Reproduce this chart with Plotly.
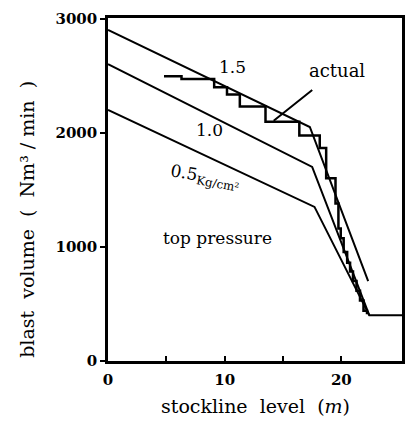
import plotly.graph_objects as go

# theoretical lines for each top pressure (Kg/cm2)
p15_x = [0, 17.3, 22.3]
p15_y = [2900, 2050, 700]
p10_x = [0, 17.5, 22.4, 25.2]
p10_y = [2600, 1700, 400, 400]
p05_x = [0, 17.7, 22.4]
p05_y = [2200, 1350, 400]

# actual blast volume (step line, horizontal then vertical)
actual_x = [4.8, 6.3, 9.1, 10.2, 11.3, 13.5, 16.4, 18.15, 18.7, 19.5, 19.75, 19.95,
            20.2, 20.5, 20.75, 21.0, 21.3, 21.6, 21.9, 22.2, 22.35]
actual_y = [2495, 2470, 2398, 2335, 2230, 2095, 1975, 1866, 1600, 1380, 1160, 1075,
            955, 860, 785, 700, 615, 530, 440, 420, 420]

x_tickvals = [0, 5, 10, 15, 20]
x_ticktext = ["0", "", "10", "", "20"]
y_tickvals = [0, 1000, 2000, 3000]
y_ticktext = ["0", "1000", "2000", "3000"]

SERIF = "DejaVu Serif"
line_style = dict(color="black", width=2)

fig = go.Figure()
fig.add_trace(go.Scatter(x=p15_x, y=p15_y, mode="lines", line=line_style, name="1.5"))
fig.add_trace(go.Scatter(x=p10_x, y=p10_y, mode="lines", line=line_style, name="1.0"))
fig.add_trace(go.Scatter(x=p05_x, y=p05_y, mode="lines", line=line_style, name="0.5"))
fig.add_trace(go.Scatter(x=actual_x, y=actual_y, mode="lines",
                         line=dict(color="black", width=2.5, shape="hv"), name="actual"))

txt = dict(family=SERIF, size=17, color="black")
fig.add_annotation(x=10.7, y=2575, text="1.5", showarrow=False, font=txt)
fig.add_annotation(x=8.7, y=2025, text="1.0", showarrow=False, font=txt)
fig.add_annotation(x=8.3, y=1610, text="0.5<sub>Kg/cm²</sub>", showarrow=False,
                   font=txt, textangle=10)
fig.add_annotation(x=9.4, y=1080, text="top pressure", showarrow=False, font=txt)
fig.add_annotation(x=14.2, y=2105, ax=19.6, ay=2545, xref="x", yref="y",
                   axref="x", ayref="y", text="actual", showarrow=True,
                   arrowhead=0, arrowwidth=2, arrowcolor="black",
                   font=dict(family=SERIF, size=18, color="black"),
                   xanchor="center", yanchor="middle", standoff=0,
                   startstandoff=12)

fig.add_annotation(x=-0.276, y=0.414, xref="paper", yref="paper",
                   xanchor="center", yanchor="middle",
                   text="blast  volume  (  Nm³ / min  )", textangle=-90,
                   showarrow=False, font=dict(family=SERIF, size=19, color="black"))
fig.add_annotation(x=0.5, y=-0.13, xref="paper", yref="paper",
                   xanchor="center", yanchor="middle",
                   text="stockline  level  (<i>m</i>)",
                   showarrow=False, font=dict(family=SERIF, size=19, color="black"))

fig.update_xaxes(range=[0, 25.2], tickvals=x_tickvals, ticktext=x_ticktext,
                 ticks="inside", ticklen=5, tickwidth=2, tickcolor="black",
                 showline=True, linecolor="black", linewidth=2.5, mirror=True,
                 showgrid=False, zeroline=False, automargin=False,
                 ticklabelstandoff=3,
                 tickfont=dict(family=SERIF, size=15, color="black", weight="bold"))
fig.update_yaxes(range=[0, 3005], tickvals=y_tickvals, ticktext=y_ticktext,
                 ticks="outside", ticklen=5, tickwidth=2, tickcolor="black",
                 showline=True, linecolor="black", linewidth=2.5, mirror=True,
                 showgrid=False, zeroline=False, ticklabeloverflow="allow",
                 automargin=False,
                 tickfont=dict(family=SERIF, size=15, color="black", weight="bold"))

fig.update_layout(width=415, height=421, plot_bgcolor="white", paper_bgcolor="white",
                  showlegend=False, margin=dict(l=100, r=21, t=10, b=68))
fig.write_html("out.html")
